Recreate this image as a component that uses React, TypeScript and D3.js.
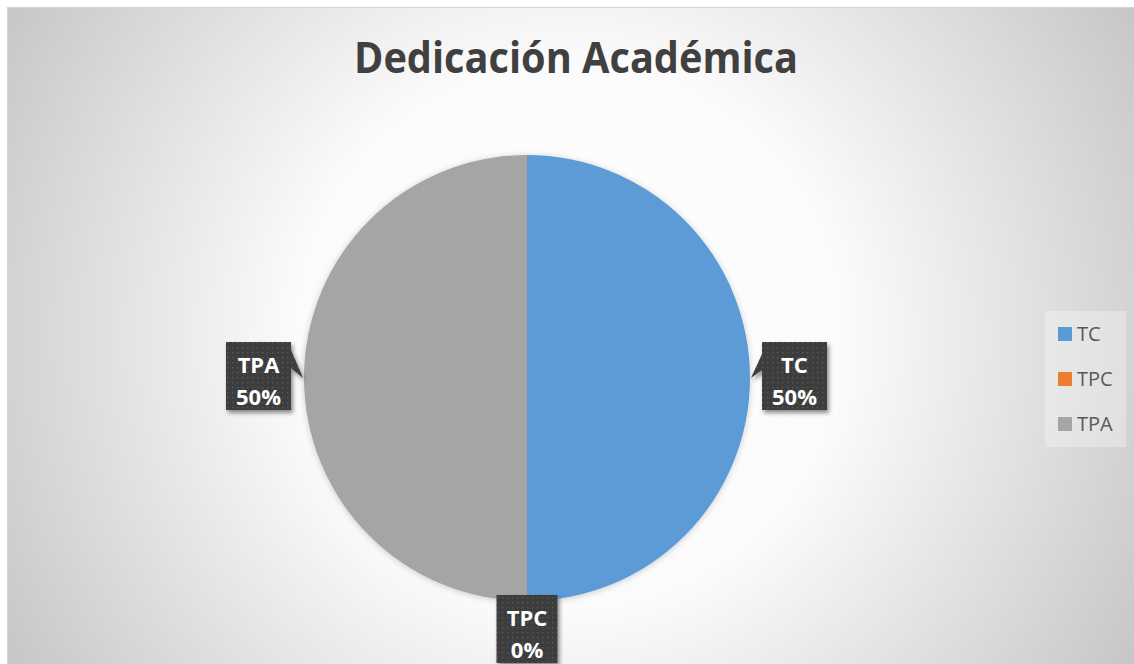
import React, { useEffect, useRef } from "react";
import * as d3 from "d3";

const categories = ["TC", "TPC", "TPA"];
const values = [50, 0, 50];
const colors = ["#5B9BD5", "#ED7D31", "#A5A5A5"];
const title = "Dedicación Académica";

const W = 1134;
const H = 664;

export default function App() {
  const ref = useRef<SVGSVGElement | null>(null);

  useEffect(() => {
    const svg = d3.select(ref.current);
    svg.selectAll("*").remove();

    const defs = svg.append("defs");
    const rg = defs
      .append("radialGradient")
      .attr("id", "bg")
      .attr("gradientUnits", "userSpaceOnUse")
      .attr("cx", 570)
      .attr("cy", 335)
      .attr("r", 655);
    rg.append("stop").attr("offset", 0).attr("stop-color", "#ffffff");
    rg.append("stop").attr("offset", 0.42).attr("stop-color", "#fbfbfb");
    rg.append("stop").attr("offset", 1).attr("stop-color", "#c6c6c6");

    const pat = defs
      .append("pattern")
      .attr("id", "dots")
      .attr("patternUnits", "userSpaceOnUse")
      .attr("width", 5)
      .attr("height", 5);
    pat.append("rect").attr("width", 5).attr("height", 5).attr("fill", "#3d3d3d");
    pat.append("rect").attr("x", 2).attr("y", 2).attr("width", 1.3).attr("height", 1.3).attr("fill", "#5a5a5a");

    const sh = defs.append("filter").attr("id", "shadow").attr("x", "-30%").attr("y", "-30%").attr("width", "160%").attr("height", "160%");
    sh.append("feDropShadow").attr("dx", 2).attr("dy", 3).attr("stdDeviation", 2).attr("flood-color", "#000").attr("flood-opacity", 0.45);

    const psh = defs.append("filter").attr("id", "pshadow").attr("x", "-10%").attr("y", "-10%").attr("width", "120%").attr("height", "120%");
    psh.append("feDropShadow").attr("dx", 0).attr("dy", 1).attr("stdDeviation", 3).attr("flood-color", "#000").attr("flood-opacity", 0.2);

    // chart area
    svg.append("rect").attr("x", 0).attr("y", 0).attr("width", W).attr("height", H).attr("fill", "#ffffff");
    svg
      .append("rect")
      .attr("x", 7.5)
      .attr("y", 7.5)
      .attr("width", W)
      .attr("height", H)
      .attr("fill", "url(#bg)")
      .attr("stroke", "#d4d4d4")
      .attr("stroke-width", 1);

    // title
    svg
      .append("text")
      .attr("x", 576)
      .attr("y", 73)
      .attr("text-anchor", "middle")
      .attr("font-family", "'Open Sans', sans-serif")
      .attr("font-weight", 700)
      .attr("font-size", 43)
      .attr("fill", "#404040")
      .attr("textLength", 444)
      .attr("lengthAdjust", "spacingAndGlyphs")
      .text(title);

    // pie
    const cx = 527;
    const cy = 378;
    const r = 223;
    const pie = d3
      .pie<number>()
      .sort(null)
      .value((d) => d)(values);
    const arc = d3.arc<d3.PieArcDatum<number>>().innerRadius(0).outerRadius(r);
    const g = svg.append("g").attr("transform", `translate(${cx},${cy})`);
    g.append("g")
      .attr("filter", "url(#pshadow)")
      .selectAll("path")
      .data(pie)
      .join("path")
      .attr("d", (d) => arc(d) || "")
      .attr("fill", (_d, i) => colors[i]);

    // data labels
    const total = d3.sum(values);
    const lg = svg.append("g");
    pie.forEach((d, i) => {
      const mid = (d.startAngle + d.endAngle) / 2;
      const dx = Math.sin(mid);
      const dy = -Math.cos(mid);
      const tipX = cx + dx * (r + 1);
      const tipY = cy + dy * (r + 1);
      const lines = [categories[i], `${Math.round((values[i] / total) * 100)}%`];

      const grp = lg.append("g");
      const tmp = grp
        .append("text")
        .attr("font-family", "'Open Sans', sans-serif")
        .attr("font-weight", 700)
        .attr("font-size", 22);
      let maxW = 0;
      lines.forEach((t) => {
        tmp.text(t);
        const w = (tmp.node() as SVGTextElement).getComputedTextLength();
        if (w > maxW) maxW = w;
      });
      tmp.remove();
      const bw = Math.max(60, Math.round(maxW + 20));
      const bh = 68;
      let bx: number;
      let by: number;
      let pointer: string | null = null;
      if (Math.abs(dx) > 0.5) {
        by = cy - bh / 2 - 2;
        if (dx > 0) {
          bx = cx + r + 12;
          pointer = `M${bx},${by + 12} L${tipX},${tipY} L${bx},${by + 28} Z`;
        } else {
          bx = cx - r - 13 - bw;
          pointer = `M${bx + bw},${by + 8} L${tipX},${tipY} L${bx + bw},${by + 26} Z`;
        }
      } else {
        bx = cx - bw / 2;
        by = cy + r - 6;
      }
      const box = grp.append("g").attr("filter", "url(#shadow)");
      box.append("rect").attr("x", bx).attr("y", by).attr("width", bw).attr("height", bh).attr("fill", "url(#dots)");
      if (pointer) box.append("path").attr("d", pointer).attr("fill", "url(#dots)");
      lines.forEach((t, k) => {
        grp
          .append("text")
          .attr("x", bx + bw / 2)
          .attr("y", by + 31 + k * 32)
          .attr("text-anchor", "middle")
          .attr("font-family", "'Open Sans', sans-serif")
          .attr("font-weight", 700)
          .attr("font-size", 22)
          .attr("fill", "#ffffff")
          .text(t);
      });
    });

    // legend
    const leg = svg.append("g");
    leg
      .append("rect")
      .attr("x", 1045)
      .attr("y", 311)
      .attr("width", 81)
      .attr("height", 136)
      .attr("fill", "#ffffff")
      .attr("fill-opacity", 0.3);
    categories.forEach((c, i) => {
      const y = 327 + i * 45;
      leg.append("rect").attr("x", 1058).attr("y", y).attr("width", 14).attr("height", 14).attr("fill", colors[i]);
      leg
        .append("text")
        .attr("x", 1077)
        .attr("y", y + 14)
        .attr("font-family", "'Open Sans', sans-serif")
        .attr("font-size", 20)
        .attr("fill", "#595959")
        .text(c);
    });
  }, []);

  return (
    <svg
      ref={ref}
      width={W}
      height={H}
      style={{ position: "absolute", left: 0, top: 0, display: "block" }}
    />
  );
}
